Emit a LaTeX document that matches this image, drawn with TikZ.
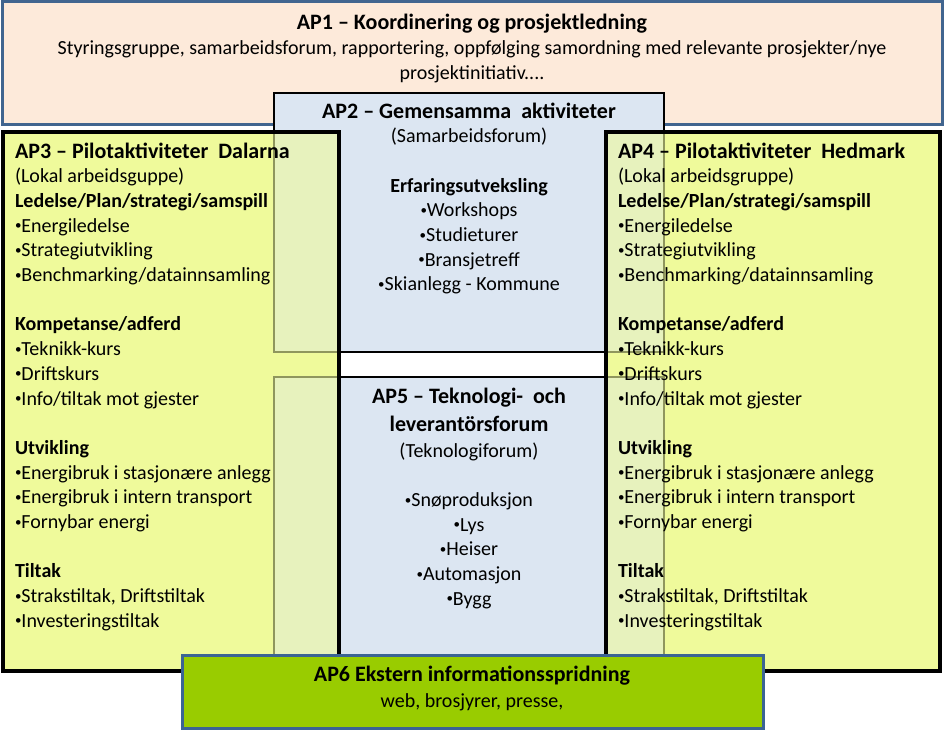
\documentclass[tikz,border=0pt]{standalone}
\usepackage{fontspec}
\setmainfont{Carlito}
\definecolor{peach}{HTML}{FDEADA}
\definecolor{apblue}{HTML}{41658F}
\definecolor{lblue}{HTML}{DCE6F2}
\definecolor{yel}{HTML}{EFFA9B}
\definecolor{lime}{HTML}{99CC00}
\definecolor{apsix}{HTML}{3B6494}
\newcommand\aptitle[1]{{\fontsize{22}{24.7}\selectfont\bfseries #1}}
\newcommand\firstrule[1]{\rule{0pt}{#1}}
\newcommand\bul{\raisebox{2.4pt}{\fontsize{13}{13}\selectfont •}}
\begin{document}
\begin{tikzpicture}[x=1pt,y=-1pt,
  box/.style={rectangle, anchor=north west, inner sep=0pt, outer sep=0pt},
  body/.style={inner sep=0pt, outer sep=0pt, font=\fontsize{20}{24.7}\selectfont},
  sidetext/.style={body, anchor=north west, align=left},
  midtext/.style={body, anchor=north, align=center},
  yelbox/.style={box, fill=yel, fill opacity=0.6, draw=black, draw opacity=1, line width=3.5pt},
  bluebox/.style={box, fill=lblue, draw=black, line width=2.5pt}]
\fill[white] (0,0) rectangle (944,730);
\useasboundingbox (0,0) rectangle (944,730);
% AP1
\node[box, fill=peach, draw=apblue, line width=3pt, minimum width=940pt, minimum height=123pt] (ap1) at (2,2) {};
% opaque yellow base of AP3 / AP4
\fill[yel] (3,132) rectangle (339,671);
\fill[yel] (606,132) rectangle (940,671);
% AP2 and AP5
\node[bluebox, minimum width=390pt, minimum height=259pt] (ap2) at (274,93) {};
\node[bluebox, minimum width=390pt, minimum height=320pt] (ap5) at (274,377) {};
% AP3 and AP4 (semi-transparent over AP2/AP5)
\node[yelbox, minimum width=336pt, minimum height=539pt] (ap3) at (3,132) {};
\node[yelbox, minimum width=334pt, minimum height=539pt] (ap4) at (606,132) {};
% AP6
\node[box, fill=lime, draw=apsix, line width=3pt, minimum width=581pt, minimum height=73pt] (ap6) at (182,655) {};

% texts
\node[midtext] (ap1t) at (472,12) {\firstrule{18pt}\aptitle{AP1 -- Koordinering og prosjektledning}};
\node[midtext, font=\fontsize{20}{24.5}\selectfont] (ap1s) at (472,38) {\firstrule{17pt}Styringsgruppe, samarbeidsforum, rapportering, oppfølging samordning med relevante prosjekter/nye\\prosjektinitiativ....};

\node[midtext] (ap2t) at (469,100) {\firstrule{18pt}\aptitle{AP2 -- Gemensamma\ \ aktiviteter}\\
(Samarbeidsforum)\\ \mbox{}\\
\textbf{Erfaringsutveksling}\\
\bul Workshops\\ \bul Studieturer\\ \bul Bransjetreff\\ \bul Skianlegg - Kommune};

\node[sidetext] (ap3t) at (15,140) {\firstrule{18pt}\aptitle{AP3 -- Pilotaktiviteter\ \ Dalarna}\\
(Lokal arbeidsguppe)\\
\textbf{Ledelse/Plan/strategi/samspill}\\
\bul Energiledelse\\ \bul Strategiutvikling\\ \bul Benchmarking/datainnsamling\\ \mbox{}\\
\textbf{Kompetanse/adferd}\\
\bul Teknikk-kurs\\ \bul Driftskurs\\ \bul Info/tiltak mot gjester\\ \mbox{}\\
\textbf{Utvikling}\\
\bul Energibruk i stasjonære anlegg\\ \bul Energibruk i intern transport\\ \bul Fornybar energi\\ \mbox{}\\
\textbf{Tiltak}\\
\bul Strakstiltak, Driftstiltak\\ \bul Investeringstiltak};

\node[sidetext] (ap4t) at (618,140) {\firstrule{18pt}\aptitle{AP4 -- Pilotaktiviteter\ \ Hedmark}\\
(Lokal arbeidsgruppe)\\
\textbf{Ledelse/Plan/strategi/samspill}\\
\bul Energiledelse\\ \bul Strategiutvikling\\ \bul Benchmarking/datainnsamling\\ \mbox{}\\
\textbf{Kompetanse/adferd}\\
\bul Teknikk-kurs\\ \bul Driftskurs\\ \bul Info/tiltak mot gjester\\ \mbox{}\\
\textbf{Utvikling}\\
\bul Energibruk i stasjonære anlegg\\ \bul Energibruk i intern transport\\ \bul Fornybar energi\\ \mbox{}\\
\textbf{Tiltak}\\
\bul Strakstiltak, Driftstiltak\\ \bul Investeringstiltak};

\node[midtext] (ap5t) at (469,385) {\firstrule{18pt}\aptitle{AP5 -- Teknologi-\ \ och}\\[3.3pt]
\aptitle{leverantörsforum}\\[1.3pt]
(Teknologiforum)\\ \mbox{}\\
\bul Snøproduksjon\\ \bul Lys\\ \bul Heiser\\ \bul Automasjon\\ \bul Bygg};

\node[midtext] (ap6t) at (472,663) {\firstrule{18pt}\aptitle{AP6 Ekstern informationsspridning}\\[1.3pt]
web, brosjyrer, presse,};
\end{tikzpicture}
\end{document}
